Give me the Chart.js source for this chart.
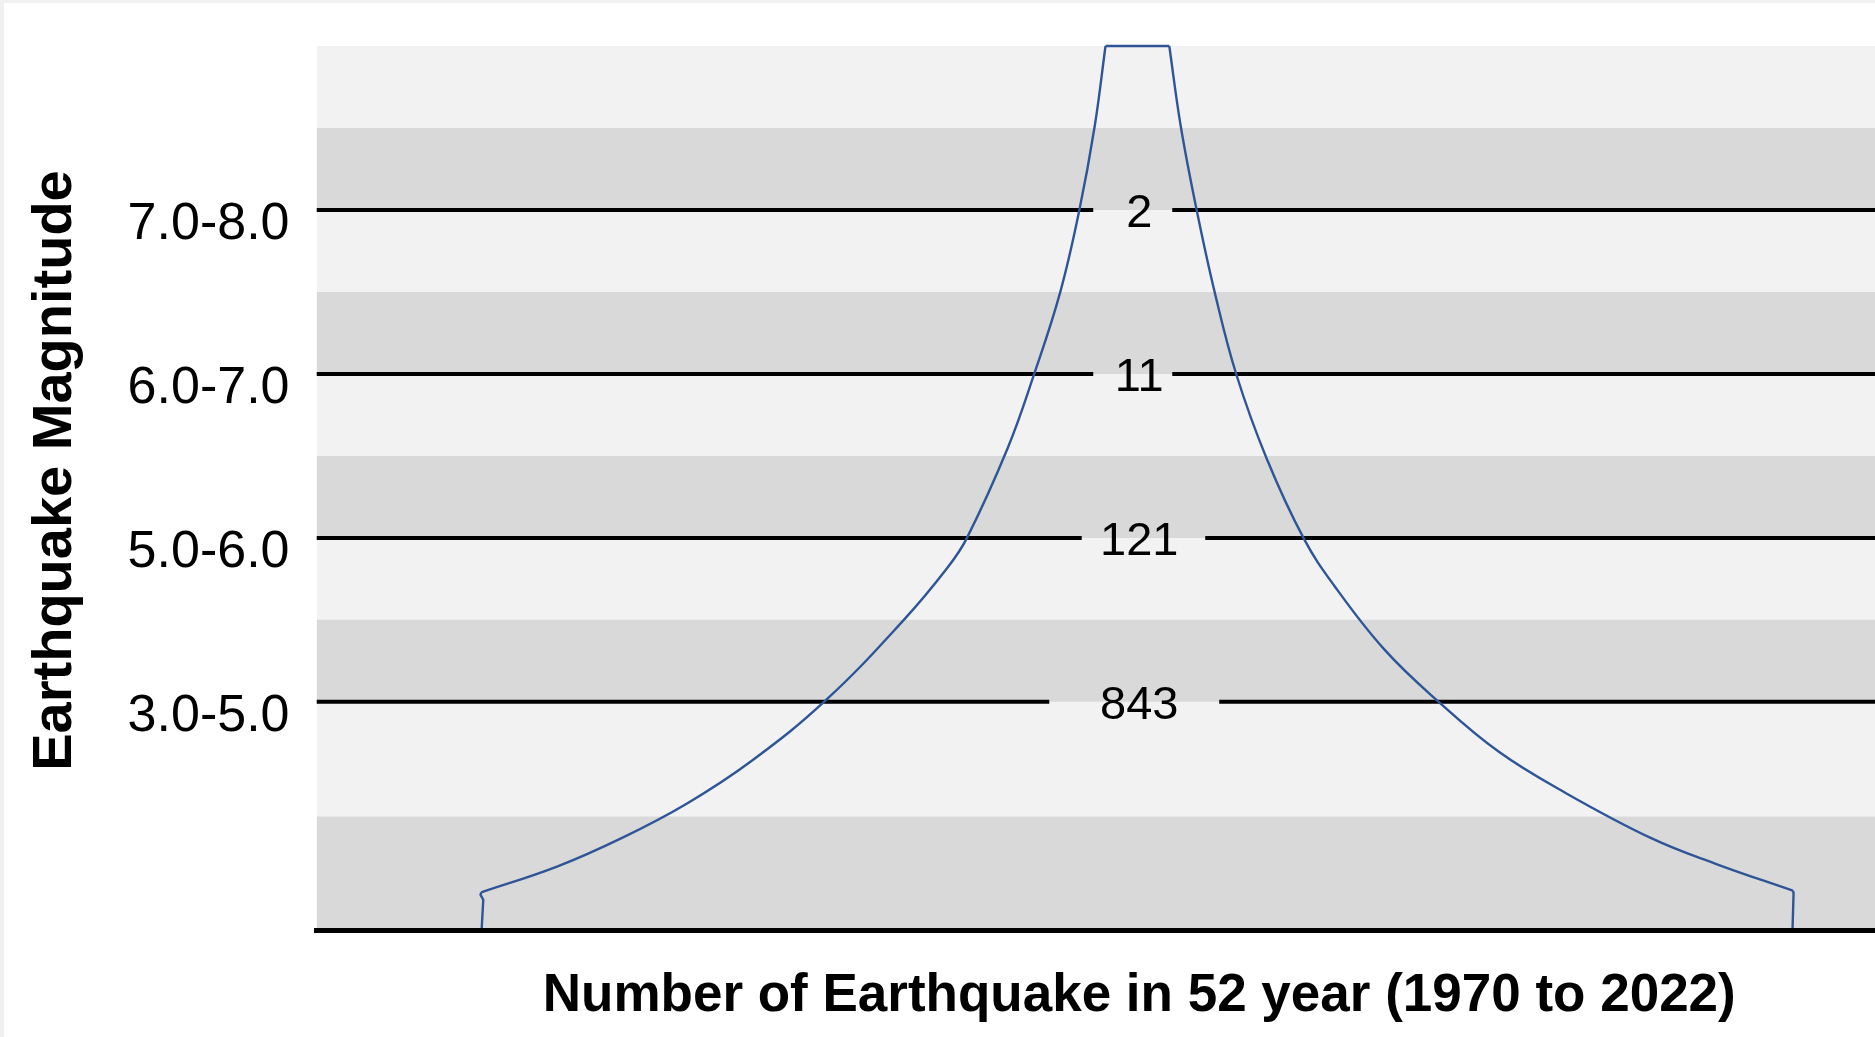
<!DOCTYPE html>
<html>
<head>
<meta charset="utf-8">
<title>Earthquakes by magnitude, 1970 to 2022</title>
<script src="https://cdn.jsdelivr.net/npm/chart.js@4.4.1/dist/chart.umd.min.js"></script>
<style>
  html, body { margin: 0; padding: 0; width: 1875px; height: 1037px; overflow: hidden; background: #f0f0f0; }
  #frame { position: absolute; left: 4px; top: 3px; width: 1958px; height: 1034px; background: #ffffff; }
  canvas { display: block; }
</style>
</head>
<body>
<div id="frame"><canvas id="chart" width="1958" height="1034"></canvas></div>
<script>
// Magnitude classes, one level per horizontal rule (bottom to top)
const magnitudes = ['3.0-5.0', '5.0-6.0', '6.0-7.0', '7.0-8.0'];
const magnitudeLevel = [1, 2, 3, 4];
// Number of earthquakes per class, 1970 to 2022
const quakeCounts = [843, 121, 11, 2];

// Axis ranges
const X_MIN = -100, X_MAX = 100;
const Y_MIN = -0.3916, Y_MAX = 5.2135;
const LABEL_X = 0;

// Each rule is broken around its count label
const ruleGapLeft  = [-10.94, -6.99, -5.59, -5.59];
const ruleGapRight = [9.72, 8.02, 4.01, 4.01];

// Background bands: a light base with darker stripes on top
const bandFloor = [Y_MIN, Y_MIN, 1.0, 2.0, 3.0, 4.0];
const bandCeil  = [5.0, 0.30, 1.5, 2.5, 3.5, 4.5];
const bandShade = ['#f2f2f2', '#d9d9d9', '#d9d9d9', '#d9d9d9', '#d9d9d9', '#d9d9d9'];

// Funnel outline, traced from bottom-left, over the top, down to bottom-right
const leftStemX  = [-79.93, -79.73, -80.06, -79.98];
const leftStemY  = [-0.39, -0.207, -0.177, -0.162];
const leftFlankX = [-79.98, -70.77, -62.86, -54.96, -47.05, -38.09, -28.61, -23.34, -20.97, -15.96, -12.80, -9.62, -7.26, -5.41, -4.10];
const leftFlankY = [-0.162, -0.005, 0.170, 0.380, 0.642, 1.010, 1.500, 1.816, 1.997, 2.551, 2.995, 3.496, 4.004, 4.512, 5.0];
const topX = [-4.10, 3.65];
const topY = [5.0, 5.0];
const rightFlankX = [3.65, 5.04, 6.96, 9.18, 11.81, 15.51, 19.99, 23.68, 29.78, 36.33, 43.71, 51.62, 62.16, 70.06, 79.44];
const rightFlankY = [5.0, 4.512, 4.004, 3.496, 2.995, 2.481, 1.997, 1.710, 1.320, 1.003, 0.695, 0.450, 0.170, 0.012, -0.152];
const rightStemX = [79.44, 79.53, 79.40];
const rightStemY = [-0.152, -0.166, -0.39];

const FONT = '"Liberation Sans", Arial, Helvetica, sans-serif';
const OUTLINE = '#2f5597';

const pts = (xs, ys) => xs.map((x, i) => ({ x: x, y: ys[i] }));

// Higher order is painted first, so the light base goes down before the stripes
const bandSets = bandFloor.map((lo, i) => ({
  data: [{ x: X_MIN, y: bandCeil[i] }, { x: X_MAX, y: bandCeil[i] }],
  fill: { value: lo },
  backgroundColor: bandShade[i],
  borderColor: 'rgba(0,0,0,0)',
  borderWidth: 0,
  pointRadius: 0,
  order: i === 0 ? 40 : 30
}));

const ruleSets = magnitudeLevel.map((k, i) => ({
  data: [
    { x: X_MIN, y: k }, { x: ruleGapLeft[i], y: k },
    { x: LABEL_X, y: null },
    { x: ruleGapRight[i], y: k }, { x: X_MAX, y: k }
  ],
  borderColor: '#000000',
  borderWidth: 4,
  pointRadius: 0,
  fill: false,
  spanGaps: false,
  order: 20
}));

const outlinePart = (xs, ys, smooth) => ({
  data: pts(xs, ys),
  borderColor: OUTLINE,
  borderWidth: 2.4,
  pointRadius: 0,
  fill: false,
  tension: smooth ? 0.4 : 0,
  order: 10
});

const outlineSets = [
  outlinePart(leftStemX, leftStemY, false),
  outlinePart(leftFlankX, leftFlankY, true),
  outlinePart(topX, topY, false),
  outlinePart(rightFlankX, rightFlankY, true),
  outlinePart(rightStemX, rightStemY, false)
];

// Writes each class count in the break of its rule
const countLabels = {
  id: 'countLabels',
  afterDatasetsDraw(chart) {
    const { ctx, scales: { x, y } } = chart;
    ctx.save();
    ctx.font = '47px ' + FONT;
    ctx.fillStyle = '#000000';
    ctx.textAlign = 'center';
    ctx.textBaseline = 'middle';
    quakeCounts.forEach((n, i) => {
      ctx.fillText(String(n), x.getPixelForValue(LABEL_X), y.getPixelForValue(magnitudeLevel[i]) + 4);
    });
    ctx.restore();
  }
};

new Chart(document.getElementById('chart'), {
  type: 'line',
  data: { datasets: [...bandSets, ...ruleSets, ...outlineSets] },
  plugins: [countLabels],
  options: {
    responsive: false,
    animation: false,
    devicePixelRatio: 1,
    layout: { padding: { top: 8, left: 0, right: 0, bottom: 0 } },
    plugins: { legend: { display: false }, tooltip: { enabled: false } },
    events: [],
    scales: {
      x: {
        type: 'linear',
        min: X_MIN,
        max: X_MAX,
        ticks: { display: false },
        grid: { display: false, drawTicks: false },
        border: { display: true, color: '#000000', width: 5, z: 1 },
        title: {
          display: true,
          text: 'Number of Earthquake in 52 year (1970 to 2022)',
          color: '#000000',
          font: { family: FONT, size: 53, weight: 'bold' },
          padding: { top: 34.2, bottom: 9.2 }
        }
      },
      y: {
        type: 'linear',
        min: Y_MIN,
        max: Y_MAX,
        afterBuildTicks: (scale) => { scale.ticks = magnitudeLevel.map(v => ({ value: v })); },
        afterFit: (scale) => { scale.width = 312.5; scale.paddingTop = 0; scale.paddingBottom = 0; },
        ticks: {
          autoSkip: false,
          padding: 27,
          labelOffset: 15,
          color: '#000000',
          font: { family: FONT, size: 52 },
          callback: (v) => magnitudes[magnitudeLevel.indexOf(v)]
        },
        grid: { display: false, drawTicks: false },
        border: { display: false },
        title: {
          display: true,
          text: 'Earthquake Magnitude',
          color: '#000000',
          font: { family: FONT, size: 56, weight: 'bold' },
          padding: { top: 18, bottom: 0 }
        }
      }
    }
  }
});
</script>
</body>
</html>
